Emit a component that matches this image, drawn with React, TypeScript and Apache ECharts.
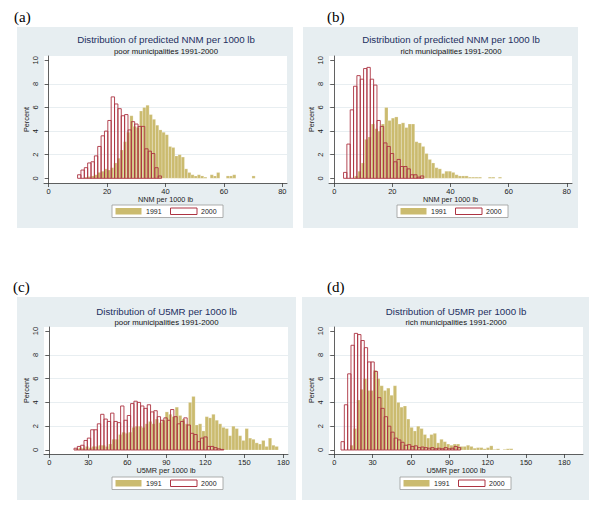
import React, { useEffect, useRef } from 'react';
import * as echarts from 'echarts';

// ---------- data ----------
const NNM_TICKS = [0, 20, 40, 60, 80];
const U5MR_TICKS = [0, 30, 60, 90, 120, 150, 180];
const PERCENT_TICKS = [0, 2, 4, 6, 8, 10];
const YEARS = ['1991', '2000'];

// (a) NNM, poor municipalities
const A_1991_START = 12.4;
const A_1991_WIDTH = 1.1;
const A_1991 = [0.1, 0.15, 0.2, 0.3, 0.5, 0.6, 0.8, 0.7, 0.9, 1.3, 1.7, 2.4, 3.1, 3.9, 5.3, 4.4, 4.3, 5.7, 6.0, 6.2,
  5.4, 5.0, 4.5, 4.1, 3.9, 3.7, 2.7, 2.6, 1.9, 2.0, 1.8, 0.8, 0.5, 0.3, 0.2, 0.3, 0.2, 0.1, 0, 0.3,
  0.2, 0.5, 0, 0, 0.2, 0.2, 0.3, 0, 0, 0, 0, 0, 0.2];
const A_2000_START = 9.9;
const A_2000_WIDTH = 1.15;
const A_2000 = [0.3, 0.7, 0.9, 1.3, 1.4, 1.9, 2.7, 3.6, 4.0, 4.9, 6.9, 6.3, 5.9, 5.3, 5.4, 4.1, 4.8, 4.6, 4.4, 4.4,
  2.5, 2.3, 2.1, 0.9, 0.2];

// (b) NNM, rich municipalities
const B_1991_START = 7.0;
const B_1991_WIDTH = 1.15;
const B_1991 = [0.2, 0.6, 1.3, 3.3, 3.5, 4.6, 4.2, 4.0, 4.6, 6.0, 4.9, 5.1, 5.2, 4.6, 4.7, 4.3, 4.6, 4.6, 3.1, 3.0,
  2.7, 2.1, 1.6, 1.3, 0.9, 0.8, 0.4, 0.6, 0.6, 0.5, 0.3, 0.2, 0.2, 0.2, 0.1, 0.1, 0.1, 0.1, 0, 0,
  0.1, 0.1, 0, 0.1];
const B_2000_START = 3.2;
const B_2000_WIDTH = 1.15;
const B_2000 = [0.5, 2.9, 5.8, 7.8, 8.7, 8.4, 9.3, 9.4, 8.4, 7.9, 4.9, 4.4, 3.0, 2.7, 2.1, 1.4, 1.6, 1.0, 1.0, 0.8,
  0.3, 0.3, 0.1, 0.2];

// (c) U5MR, poor municipalities
const C_1991_START = 20.0;
const C_1991_WIDTH = 2.56;
const C_1991 = [0.1, 0.2, 0.15, 0.3, 0.2, 0.3, 0.3, 0.4, 0.4, 0.3, 0.5, 0.9, 0.9, 1.3, 1.5, 1.4, 1.5, 1.9, 2.0, 2.0,
  1.9, 2.2, 2.4, 2.2, 2.6, 2.3, 2.5, 3.2, 3.0, 2.8, 3.6, 2.9, 2.6, 2.2, 4.0, 4.5, 2.1, 2.2, 1.6, 2.8,
  2.7, 3.0, 2.5, 2.2, 1.9, 1.8, 1.2, 2.0, 1.8, 1.2, 0.8, 1.8, 1.0, 0.9, 0.6, 0.5, 0.8, 0.3, 1.0, 0.4, 0.3];
const C_2000_START = 19.0;
const C_2000_WIDTH = 2.56;
const C_2000 = [0.15, 0.3, 0.4, 0.8, 1.0, 1.7, 1.7, 2.2, 3.0, 2.6, 2.4, 3.1, 2.4, 2.3, 3.7, 2.5, 2.9, 3.9, 4.1, 4.0,
  3.7, 3.5, 3.8, 3.2, 3.3, 2.8, 2.5, 2.7, 2.5, 3.4, 2.8, 2.2, 2.4, 2.7, 2.1, 1.4, 1.3, 0.7, 1.0, 1.1,
  0.3, 0.3, 0.2, 0.1, 0.05];

// (d) U5MR, rich municipalities
const D_1991_START = 12.4;
const D_1991_WIDTH = 2.6;
const D_1991 = [0.4, 1.8, 4.2, 5.1, 6.0, 5.0, 5.0, 6.7, 6.0, 5.4, 5.0, 5.2, 4.6, 5.4, 4.0, 3.6, 3.7, 2.6, 1.9, 1.6,
  2.0, 1.8, 1.3, 1.0, 1.3, 1.4, 0.6, 0.9, 0.7, 0.5, 0.4, 0.5, 0.5, 0.3, 0.3, 0.4, 0.3, 0.15, 0.2, 0.2,
  0.1, 0.2, 0.35, 0.05, 0.1, 0, 0.05, 0.1, 0.1];
const D_2000_START = 5.3;
const D_2000_WIDTH = 2.6;
const D_2000 = [0.7, 3.8, 6.4, 8.8, 9.8, 9.7, 9.2, 8.6, 7.4, 7.4, 6.6, 4.4, 3.5, 2.8, 2.0, 1.5, 1.0, 0.85, 0.65, 0.4,
  0.45, 0.3, 0.35, 0.2, 0.25, 0.2, 0.15, 0.2, 0.1, 0.15, 0.1, 0.2, 0.1, 0.15, 0.3, 0.2];

// ---------- helpers ----------
const bins = (start: number, width: number, heights: number[]) =>
  heights.map((h, i) => [start + i * width, start + (i + 1) * width, h]);

const FONT = "'Liberation Sans', Arial, Helvetica, sans-serif";
const SERIF = "'Liberation Serif', 'Times New Roman', serif";
const KHAKI = '#cbbb6f';
const RED = '#ad3342';
const PANEL_BG = '#e7eef1';
const NAVY = '#1d2f5f';
const AXIS = '#3a3a3a';

const PANELS = [
  {
    label: '(a)', labelPos: [14, 17],
    bg: [17, 27, 276, 201],
    grid: [44, 56, 243, 127],
    xr: [-1.6, 81.6], yr: [-0.398, 10.364],
    ticks: NNM_TICKS, xName: 'NNM per 1000 lb', nameGap: 10,
    title: 'Distribution of predicted NNM per 1000 lb', sub: 'poor municipalities 1991-2000',
    tx: 166, ty: 39.5,
    legend: [112, 205],
    old: bins(A_1991_START, A_1991_WIDTH, A_1991), now: bins(A_2000_START, A_2000_WIDTH, A_2000),
  },
  {
    label: '(b)', labelPos: [327, 17],
    bg: [303, 27, 275, 201],
    grid: [329, 56, 243, 127],
    xr: [-1.8, 81.8], yr: [-0.398, 10.364],
    ticks: NNM_TICKS, xName: 'NNM per 1000 lb', nameGap: 10,
    title: 'Distribution of predicted NNM per 1000 lb', sub: 'rich municipalities 1991-2000',
    tx: 451, ty: 39.5,
    legend: [397, 205],
    old: bins(B_1991_START, B_1991_WIDTH, B_1991), now: bins(B_2000_START, B_2000_WIDTH, B_2000),
  },
  {
    label: '(c)', labelPos: [13, 287],
    bg: [17, 297, 279, 203],
    grid: [44, 327, 244, 127],
    xr: [-4.1, 183.6], yr: [-0.336, 10.336],
    ticks: U5MR_TICKS, xName: 'U5MR per 1000 lb', nameGap: 11,
    title: 'Distribution of U5MR per 1000 lb', sub: 'poor municipalities 1991-2000',
    tx: 166.5, ty: 311,
    legend: [112, 477],
    old: bins(C_1991_START, C_1991_WIDTH, C_1991), now: bins(C_2000_START, C_2000_WIDTH, C_2000),
  },
  {
    label: '(d)', labelPos: [327, 287],
    bg: [302, 297, 287, 203],
    grid: [329, 327, 254, 127],
    xr: [-4.1, 194.6], yr: [-0.336, 10.336],
    ticks: U5MR_TICKS, xName: 'U5MR per 1000 lb', nameGap: 11,
    title: 'Distribution of U5MR per 1000 lb', sub: 'rich municipalities 1991-2000',
    tx: 456, ty: 311,
    legend: [400, 477],
    old: bins(D_1991_START, D_1991_WIDTH, D_1991), now: bins(D_2000_START, D_2000_WIDTH, D_2000),
  },
];

const renderBar = (fill: string, stroke: string, lineWidth: number) => (params: any, api: any) => {
  const h = api.value(2);
  if (!(h > 0)) return null;
  const p0 = api.coord([api.value(0), 0]);
  const p1 = api.coord([api.value(1), h]);
  return {
    type: 'rect',
    shape: { x: p0[0], y: p1[1], width: p1[0] - p0[0], height: p0[1] - p1[1] },
    style: { fill, stroke, lineWidth },
  };
};

const txt = (x: number, y: number, text: string, size: number, color: string, align = 'center', family = FONT) => ({
  type: 'text',
  x, y,
  style: {
    text, fill: color, fontSize: size, fontFamily: family,
    align, textAlign: align, verticalAlign: 'middle', textVerticalAlign: 'middle',
  },
});

function buildOption() {
  const graphic: any[] = [];
  PANELS.forEach((p) => {
    graphic.push({
      type: 'rect', z: -10,
      shape: { x: p.bg[0], y: p.bg[1], width: p.bg[2], height: p.bg[3] },
      style: { fill: PANEL_BG },
    });
    graphic.push(txt(p.labelPos[0], p.labelPos[1], p.label, 15, '#000', 'left', SERIF));
    graphic.push(txt(p.tx, p.ty, p.title, 9.7, NAVY));
    graphic.push(txt(p.tx, p.ty + 11.5, p.sub, 7.8, '#111'));
    const [lx, ly] = p.legend;
    graphic.push({
      type: 'rect',
      shape: { x: lx, y: ly, width: 111, height: 12.5 },
      style: { fill: '#fff', stroke: '#9a9a9a', lineWidth: 0.8 },
    });
    graphic.push({
      type: 'rect',
      shape: { x: lx + 3.5, y: ly + 3, width: 26, height: 6.5 },
      style: { fill: KHAKI },
    });
    graphic.push(txt(lx + 34, ly + 6.5, YEARS[0], 7, '#222', 'left'));
    graphic.push({
      type: 'rect',
      shape: { x: lx + 58.5, y: ly + 3, width: 26.5, height: 6.5 },
      style: { fill: '#fff', stroke: RED, lineWidth: 1 },
    });
    graphic.push(txt(lx + 89, ly + 6.5, YEARS[1], 7, '#222', 'left'));
  });

  return {
    animation: false,
    backgroundColor: '#ffffff',
    textStyle: { fontFamily: FONT },
    grid: PANELS.map((p) => ({
      left: p.grid[0], top: p.grid[1], width: p.grid[2], height: p.grid[3],
      show: true, backgroundColor: '#ffffff', borderWidth: 0,
    })),
    xAxis: PANELS.map((p, i) => ({
      type: 'value', gridIndex: i, min: p.xr[0], max: p.xr[1],
      axisLine: { show: true, onZero: false, lineStyle: { color: AXIS, width: 0.8 } },
      axisTick: { show: true, customValues: p.ticks, length: 4, lineStyle: { color: AXIS, width: 0.8 } },
      axisLabel: { customValues: p.ticks, fontSize: 7.5, color: '#222', margin: 4, fontFamily: FONT },
      splitLine: { show: false },
      name: p.xName, nameLocation: 'middle', nameGap: p.nameGap,
      nameTextStyle: { fontSize: 7.3, color: '#222', fontFamily: FONT },
    })),
    yAxis: PANELS.map((p, i) => ({
      type: 'value', gridIndex: i, min: p.yr[0], max: p.yr[1],
      axisLine: { show: true, lineStyle: { color: AXIS, width: 0.8 } },
      axisTick: { show: true, customValues: PERCENT_TICKS, length: 4, lineStyle: { color: AXIS, width: 0.8 } },
      axisLabel: { customValues: PERCENT_TICKS, rotate: 90, fontSize: 7.5, color: '#222', margin: 5, fontFamily: FONT },
      splitLine: { show: true, showMinLine: false, showMaxLine: false, lineStyle: { color: '#e2eaee', width: 0.8 } },
      name: 'Percent', nameLocation: 'middle', nameGap: 13, nameRotate: 90,
      nameTextStyle: { fontSize: 7.3, color: '#222', fontFamily: FONT },
    })),
    series: PANELS.flatMap((p, i) => [
      {
        type: 'custom', name: YEARS[0], xAxisIndex: i, yAxisIndex: i,
        data: p.old, encode: { x: [0, 1], y: 2 },
        renderItem: renderBar(KHAKI, 'rgba(255,255,255,0.45)', 0.5),
      },
      {
        type: 'custom', name: YEARS[1], xAxisIndex: i, yAxisIndex: i,
        data: p.now, encode: { x: [0, 1], y: 2 },
        renderItem: renderBar('none', RED, 0.9),
      },
    ]),
    graphic,
  };
}

export default function App() {
  const ref = useRef<HTMLDivElement>(null);
  useEffect(() => {
    if (!ref.current) return;
    const chart = echarts.init(ref.current, null, { renderer: 'svg' });
    chart.setOption(buildOption() as any);
    return () => chart.dispose();
  }, []);
  return (
    <div
      ref={ref}
      style={{ position: 'fixed', left: 0, top: 0, width: 600, height: 511, background: '#fff' }}
    />
  );
}
